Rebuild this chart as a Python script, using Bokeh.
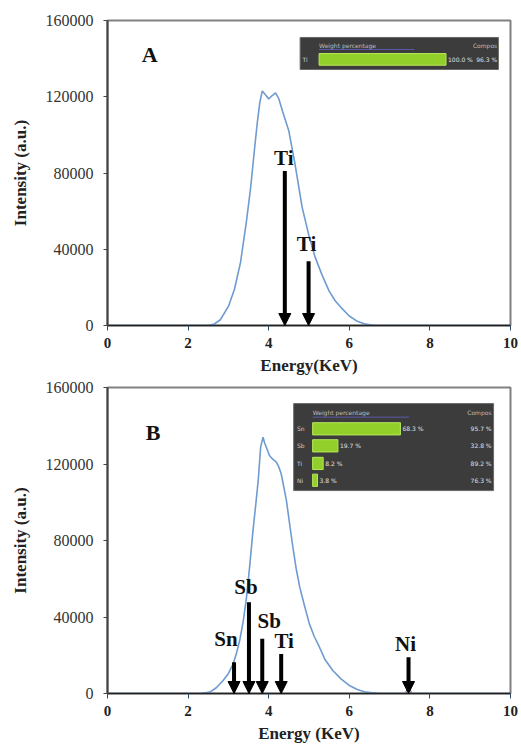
from bokeh.plotting import figure
from bokeh.models import Range1d, FixedTicker, NumeralTickFormatter, Arrow, NormalHead, ColumnDataSource
from bokeh.layouts import column
from bokeh.embed import file_html
from bokeh.resources import INLINE
from bokeh.core.properties import value

# ---------------- data ----------------
energy_a = [0, 2.0, 2.5, 2.65, 2.8, 3.0, 3.15, 3.3, 3.45, 3.55, 3.65, 3.72, 3.78, 3.84, 3.92,
            4.0, 4.08, 4.17, 4.25, 4.35, 4.5, 4.65, 4.83, 5.0, 5.15, 5.32, 5.5, 5.65, 5.81,
            6.0, 6.2, 6.4, 6.6, 7.0, 10]
intensity_a = [0, 0, 0, 800, 3000, 10000, 19000, 33000, 55000, 72000, 93000, 107000, 117000,
               123000, 121000, 118800, 120500, 122000, 119000, 112000, 102000, 85000, 62000,
               47000, 36000, 26700, 18000, 13000, 9100, 5000, 2200, 700, 150, 0, 0]

energy_b = [0, 2.3, 2.54, 2.7, 2.87, 3.0, 3.12, 3.2, 3.28, 3.37, 3.45, 3.53, 3.61, 3.68, 3.74,
            3.80, 3.86, 3.90, 3.94, 4.02, 4.1, 4.19, 4.25, 4.31, 4.37, 4.44, 4.52, 4.6, 4.68,
            4.77, 4.9, 5.01, 5.13, 5.26, 5.4, 5.59, 5.8, 6.0, 6.2, 6.41, 6.7, 7.0, 10]
intensity_b = [0, 0, 700, 3000, 6800, 10500, 15500, 21000, 27700, 38000, 50400, 67000, 85200,
               99000, 111400, 128800, 134000, 131000, 128800, 124400, 122500, 121000, 118500,
               114900, 108500, 100900, 88500, 76500, 65500, 55600, 45000, 36400, 29800, 24200,
               17600, 12000, 7500, 4200, 2100, 700, 150, 0, 0]

x_ticks = [0, 2, 4, 6, 8, 10]
y_ticks = [0, 40000, 80000, 120000, 160000]

peak_a_names = ["Ti", "Ti"]
peak_a_energy = [4.40, 4.99]
peak_a_top = [81000, 33700]

peak_b_names = ["Sn", "Sb", "Sb", "Ti", "Ni"]
peak_b_energy = [3.14, 3.51, 3.84, 4.31, 7.47]
peak_b_top = [16400, 47700, 28600, 20700, 19000]

inset_a_elements = ["Ti"]
inset_a_weight = [100.0]
inset_a_compos = ["96.3 %"]

inset_b_elements = ["Sn", "Sb", "Ti", "Ni"]
inset_b_weight = [68.3, 19.7, 8.2, 3.8]
inset_b_compos = ["95.7 %", "32.8 %", "89.2 %", "76.3 %"]

# ---------------- styling helpers ----------------
SERIF = "Liberation Serif"
CURVE = "#6e9bd0"
INSET_FONT = "6px"


def make_fig(height, bl, br, bt, bb, xlabel):
    p = figure(width=521, height=height, output_backend="svg", toolbar_location=None,
               x_range=Range1d(0, 10), y_range=Range1d(0, 160000),
               min_border_left=bl, min_border_right=br, min_border_top=bt, min_border_bottom=bb)
    p.xgrid.visible = False
    p.ygrid.visible = False
    p.outline_line_color = "#808080"
    p.outline_line_width = 2
    p.background_fill_color = "white"
    p.border_fill_color = "white"

    xa = p.xaxis[0]
    xa.ticker = FixedTicker(ticks=x_ticks)
    xa.axis_label = xlabel
    xa.axis_label_text_font = SERIF
    xa.axis_label_text_font_style = "bold"
    xa.axis_label_text_font_size = "17px"
    xa.axis_label_text_color = "#222222"
    xa.axis_label_standoff = 5
    xa.major_label_text_font = SERIF
    xa.major_label_text_font_style = "bold"
    xa.major_label_text_font_size = "15px"
    xa.major_label_text_color = "#222222"
    xa.major_label_standoff = 7
    xa.major_tick_in = 0
    xa.major_tick_out = 5
    xa.minor_tick_out = 0
    xa.minor_tick_in = 0
    xa.axis_line_color = "#222222"
    xa.axis_line_width = 1.5
    xa.major_tick_line_color = "#33476a"

    ya = p.yaxis[0]
    ya.ticker = FixedTicker(ticks=y_ticks)
    ya.formatter = NumeralTickFormatter(format="0")
    ya.axis_label = "Intensity (a.u.)"
    ya.axis_label_text_font = SERIF
    ya.axis_label_text_font_style = "bold"
    ya.axis_label_text_font_size = "17px"
    ya.axis_label_text_color = "#222222"
    ya.axis_label_standoff = 13
    ya.major_label_text_font = SERIF
    ya.major_label_text_font_size = "16px"
    ya.major_label_text_color = "#333333"
    ya.major_label_standoff = 10
    ya.major_tick_in = 0
    ya.major_tick_out = 4
    ya.minor_tick_in = 0
    ya.minor_tick_out = 0
    ya.axis_line_color = "#444444"
    ya.axis_line_width = 2
    ya.major_tick_line_color = "#444444"
    return p


def add_peaks(p, names, energy, top, dx, dy):
    src = ColumnDataSource(dict(x=energy, top=top, base=[0] * len(energy)))
    p.add_layout(Arrow(end=NormalHead(size=12, fill_color="black", line_color="black", line_width=1),
                       x_start="x", y_start="top", x_end="x", y_end="base", source=src,
                       line_width=4, line_color="black"))
    p.text(x=energy, y=top, text=names, x_offset=dx, y_offset=dy,
           text_align="center", text_baseline="middle", text_font=value(SERIF),
           text_font_style="bold", text_font_size="21px", text_color="#111111")


def add_inset(p, elements, weights, compos, box, header_y, rows_y, bar_half,
              bar_x0, bar_full, label_x, compos_x):
    left, right, top, bottom = box
    p.quad(left=[left], right=[right], top=[top], bottom=[bottom],
           fill_color="#3c3c3c", line_color="#6a6a6a", line_width=1)
    ends = [bar_x0 + w / 100.0 * bar_full for w in weights]
    p.quad(left=[bar_x0] * len(weights), right=ends,
           top=[y + bar_half for y in rows_y], bottom=[y - bar_half for y in rows_y],
           fill_color="#93cf2a", line_color="#b6e85a", line_width=1)
    p.segment(x0=[bar_x0], y0=[header_y - 2200], x1=[bar_x0 + 0.75 * bar_full], y1=[header_y - 2200],
              line_color="#5a5aa8", line_width=1)
    p.text(x=[bar_x0], y=[header_y], text=["Weight percentage"], text_align="left",
           text_baseline="middle", text_font=value("DejaVu Sans"), text_font_size=INSET_FONT,
           text_color="#bdbdbd")
    p.text(x=[compos_x], y=[header_y], text=["Compos"], text_align="right",
           text_baseline="middle", text_font=value("DejaVu Sans"), text_font_size=INSET_FONT,
           text_color="#bdbdbd")
    p.text(x=[label_x] * len(elements), y=rows_y, text=elements, text_align="left",
           text_baseline="middle", text_font=value("DejaVu Sans"), text_font_size=INSET_FONT,
           text_color="#d0d0d0")
    p.text(x=[e + 0.05 for e in ends], y=rows_y, text=[f"{w:.1f} %" for w in weights],
           text_align="left", text_baseline="middle", text_font=value("DejaVu Sans"),
           text_font_size=INSET_FONT, text_color="#e0e0e0")
    p.text(x=[compos_x] * len(compos), y=rows_y, text=compos, text_align="right",
           text_baseline="middle", text_font=value("DejaVu Sans"), text_font_size=INSET_FONT,
           text_color="#e0e0e0")


# ---------------- panel A ----------------
pa = make_fig(380, 104, 11, 20, 55, "Energy(KeV)")
pa.line(energy_a, intensity_a, line_color=CURVE, line_width=1.6)
add_peaks(pa, peak_a_names, peak_a_energy, peak_a_top, [-1, -2], [-13, -17])
pa.text(x=[1.05], y=[142000], text=["A"], text_align="center", text_baseline="middle",
        text_font=value(SERIF), text_font_style="bold", text_font_size="22px", text_color="#111111")
add_inset(pa, inset_a_elements, inset_a_weight, inset_a_compos,
          box=(4.78, 9.70, 151100, 134300), header_y=147000, rows_y=[139600], bar_half=3070,
          bar_x0=5.25, bar_full=3.15, label_x=4.84, compos_x=9.67)

# ---------------- panel B ----------------
pb = make_fig(365, 107, 9, 7, 52, "Energy (KeV)")
pb.line(energy_b, intensity_b, line_color=CURVE, line_width=1.6)
add_peaks(pb, peak_b_names, peak_b_energy, peak_b_top, [-8, -3, 7, 3, -3], [-23, -15, -18, -13, -13])
pb.scatter(x=[peak_b_energy[-1]], y=[900], size=5, marker="circle", fill_color="white",
           line_color="#555555", line_width=1)
pb.text(x=[1.13], y=[136600], text=["B"], text_align="center", text_baseline="middle",
        text_font=value(SERIF), text_font_style="bold", text_font_size="22px", text_color="#111111")
add_inset(pb, inset_b_elements, inset_b_weight, inset_b_compos,
          box=(4.62, 9.58, 151600, 106100), header_y=146700,
          rows_y=[138400, 129500, 120300, 111500], bar_half=3200,
          bar_x0=5.09, bar_full=3.19, label_x=4.70, compos_x=9.53)

layout = column(pa, pb, spacing=0)
open("out.html", "w").write(file_html(layout, INLINE))
